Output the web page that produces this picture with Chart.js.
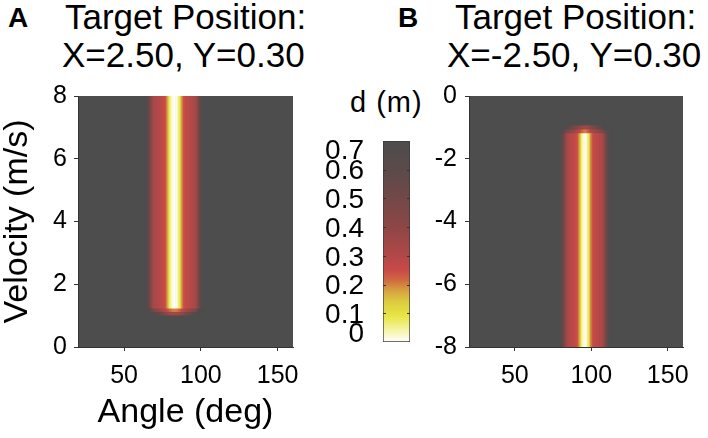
<!DOCTYPE html>
<html>
<head>
<meta charset="utf-8">
<script src="https://cdn.jsdelivr.net/npm/chart.js@4.4.1/dist/chart.umd.min.js"></script>
<style>
  html, body { margin: 0; padding: 0; background: #fff; }
  body { width: 708px; height: 438px; overflow: hidden; position: relative; font-family: "Liberation Sans", Arial, sans-serif; color: #000; }
  canvas { position: absolute; left: 0; top: 0; }
  .t { position: absolute; white-space: nowrap; line-height: 1; }
  .ttl { font-size: 35px; }
  .lab { font-size: 28px; font-weight: bold; }
</style>
</head>
<body>
<div class="t lab" style="left:8px;top:4px;">A</div>
<div class="t ttl" style="left:65px;top:-1px;">Target Position:</div>
<div class="t ttl" style="left:62px;top:37px;">X=2.50, Y=0.30</div>
<div class="t lab" style="left:398px;top:4px;">B</div>
<div class="t ttl" style="left:455px;top:-1px;">Target Position:</div>
<div class="t ttl" style="left:447px;top:37px;">X=-2.50, Y=0.30</div>
<div class="t" style="left:350px;top:88px;font-size:29px;letter-spacing:1px;">d (m)</div>

<canvas id="cA" width="708" height="438" style="width:708px;height:438px"></canvas>
<canvas id="cBar" width="708" height="438" style="width:708px;height:438px"></canvas>
<canvas id="cB" width="708" height="438" style="width:708px;height:438px"></canvas>

<script>
// ---------------- data ----------------
const angleTicks = [50, 100, 150];
const velTicksA = [0, 2, 4, 6, 8];
const velTicksB = [0, -2, -4, -6, -8];
const dTicks = [0, 0.1, 0.2, 0.3, 0.4, 0.5, 0.6, 0.7];
const dTickLabels = ['0', '0.1', '0.2', '0.3', '0.4', '0.5', '0.6', '0.7'];
const dSaturated = 0.7;   // value of all cells outside the stripes

// Panel A (target X=2.50): distance d per angle column (deg)
const anglesA = [64,65,66,67,68,69,70,71,72,73,74,75,76,77,78,79,80,81,82,83,
                 84,85,86,87,88,89,90,91,92,93,94,95,96,97,98,99,100,101,102];
const dBodyA = [0.70,0.67,0.60,0.50,0.40,0.34,0.32,0.31,0.30,0.29,0.28,0.27,0.26,0.24,0.20,0.13,0.07,0.03,0.01,0.00,
                0.01,0.03,0.07,0.13,0.20,0.24,0.26,0.27,0.28,0.29,0.30,0.31,0.32,0.34,0.40,0.50,0.60,0.67,0.70];
const dEndA1 = [0.70,0.70,0.68,0.64,0.57,0.50,0.45,0.42,0.40,0.38,0.36,0.34,0.32,0.30,0.27,0.24,0.22,0.21,0.20,0.20,
                0.20,0.21,0.22,0.24,0.27,0.30,0.32,0.34,0.36,0.38,0.40,0.42,0.45,0.50,0.57,0.64,0.68,0.70,0.70];
const dEndA2 = [0.70,0.70,0.70,0.70,0.70,0.69,0.66,0.62,0.58,0.55,0.52,0.49,0.46,0.43,0.40,0.38,0.36,0.35,0.34,0.34,
                0.34,0.35,0.36,0.38,0.40,0.43,0.46,0.49,0.52,0.55,0.58,0.62,0.66,0.69,0.70,0.70,0.70,0.70,0.70];
const velBodyA = [1.24, 8];
const velEndA1 = [1.13, 1.24];
const velEndA2 = [1.02, 1.13];

// Panel B (target X=-2.50)
const anglesB = [79,80,81,82,83,84,85,86,87,88,89,90,91,92,93,94,95,96,
                 97,98,99,100,101,102,103,104,105,106,107,108,109,110,111,112,113];
const dBodyB = [0.70,0.68,0.62,0.52,0.42,0.35,0.32,0.30,0.29,0.28,0.27,0.26,0.24,0.20,0.13,0.06,0.02,0.01,
                0.02,0.06,0.13,0.20,0.24,0.26,0.27,0.28,0.29,0.30,0.32,0.35,0.42,0.52,0.62,0.68,0.70];
const dEndB1 = [0.70,0.70,0.68,0.63,0.56,0.50,0.46,0.43,0.41,0.39,0.37,0.35,0.33,0.30,0.26,0.23,0.21,0.20,
                0.21,0.23,0.26,0.30,0.33,0.35,0.37,0.39,0.41,0.43,0.46,0.50,0.56,0.63,0.68,0.70,0.70];
const dEndB2 = [0.70,0.70,0.70,0.70,0.70,0.67,0.63,0.59,0.56,0.53,0.50,0.47,0.44,0.41,0.38,0.36,0.35,0.34,
                0.35,0.36,0.38,0.41,0.44,0.47,0.50,0.53,0.56,0.59,0.63,0.67,0.70,0.70,0.70,0.70,0.70];
const velBodyB = [-8, -1.2];
const velEndB1 = [-1.2, -1.08];
const velEndB2 = [-1.08, -0.95];

// ---------------- colormap (style) ----------------
const cmapStops  = [0, 0.04, 0.09, 0.14, 0.18, 0.215, 0.25, 0.30, 0.40, 0.50, 0.60, 0.70];
const cmapColors = ['#ffffff','#f6f4a8','#e8e644','#dccc40','#d8a040','#d06a42','#c84a48','#b24848','#8e4646','#724848','#5c4a4a','#4d4d4d'];

function hexToRgb(h) { const n = parseInt(h.slice(1), 16); return [(n >> 16) & 255, (n >> 8) & 255, n & 255]; }
function cmap(d) {
  if (d <= cmapStops[0]) return cmapColors[0];
  for (let i = 1; i < cmapStops.length; i++) {
    if (d <= cmapStops[i]) {
      const t = (d - cmapStops[i - 1]) / (cmapStops[i] - cmapStops[i - 1]);
      const a = hexToRgb(cmapColors[i - 1]), b = hexToRgb(cmapColors[i]);
      const c = a.map((v, k) => Math.round(v + (b[k] - v) * t));
      return `rgb(${c[0]},${c[1]},${c[2]})`;
    }
  }
  return cmapColors[cmapColors.length - 1];
}

// ---------------- helpers ----------------
Chart.defaults.font.family = '"Liberation Sans", Arial, sans-serif';
Chart.defaults.color = '#000';
const AX = '#333';

function stripe(angles, dVals, range) {
  return {
    type: 'bar',
    data: angles.map(a => ({ x: a, y: range })),
    backgroundColor: dVals.map(cmap),
    borderWidth: 0,
    grouped: false,
    barPercentage: 1,
    categoryPercentage: 1
  };
}

const bgPlugin = {
  id: 'heatBg',
  beforeDraw(chart) {
    const { ctx, chartArea: a } = chart;
    ctx.save();
    ctx.fillStyle = cmap(dSaturated);
    ctx.fillRect(a.left, a.top, a.right - a.left, a.bottom - a.top);
    ctx.restore();
  }
};

function axisCommon() {
  return {
    grid: { drawOnChartArea: false, drawTicks: true, tickLength: 4, color: AX, lineWidth: 1, offset: false },
    border: { display: true, color: AX, width: 1 }
  };
}

function heatChart(id, datasets, yMin, yMax, yTicks, pad, yWidth, withTitles, yPad) {
  const xs = Object.assign(axisCommon(), {
    type: 'linear', min: 20, max: 160, offset: false,
    afterBuildTicks: s => { s.ticks = angleTicks.map(v => ({ value: v })); },
    afterFit: s => { s.height = 91; },
    ticks: { font: { size: 25, lineHeight: 1.2 }, padding: 10, maxRotation: 0, autoSkip: false },
    title: { display: withTitles, text: 'Angle (deg)', font: { size: 34, lineHeight: 1.2 }, padding: { top: 0, bottom: 5 } }
  });
  const ys = Object.assign(axisCommon(), {
    type: 'linear', min: yMin, max: yMax,
    afterBuildTicks: s => { s.ticks = yTicks.map(v => ({ value: v })); },
    afterFit: s => { s.width = yWidth; },
    ticks: { font: { size: 25, lineHeight: 1.2 }, padding: yPad, autoSkip: false },
    title: { display: withTitles, text: 'Velocity (m/s)', font: { size: 34, lineHeight: 1 }, padding: { top: 1, bottom: 0 } }
  });
  return new Chart(document.getElementById(id), {
    type: 'bar',
    data: { datasets },
    options: {
      responsive: false, animation: false, devicePixelRatio: 1,
      layout: { padding: pad },
      plugins: { legend: { display: false }, tooltip: { enabled: false } },
      scales: { x: xs, y: ys }
    },
    plugins: [bgPlugin]
  });
}

// Panel A
heatChart('cA', [
  stripe(anglesA, dBodyA, velBodyA),
  stripe(anglesA, dEndA1, velEndA1),
  stripe(anglesA, dEndA2, velEndA2)
], 0, 8, velTicksA, { left: 0, top: 96, right: 415, bottom: 0 }, 78, true, 7);

// Panel B
heatChart('cB', [
  stripe(anglesB, dBodyB, velBodyB),
  stripe(anglesB, dEndB1, velEndB1),
  stripe(anglesB, dEndB2, velEndB2)
], -8, 0, velTicksB, { left: 419, top: 96, right: 25, bottom: 0 }, 50, false, 8);

// Colorbar
const cbTickPlugin = {
  id: 'cbTicks',
  afterDatasetsDraw(chart) {
    const { ctx, chartArea: a, scales: { y } } = chart;
    ctx.save();
    ctx.strokeStyle = AX; ctx.lineWidth = 1;
    dTicks.slice(1, -1).forEach(v => {
      const py = Math.round(y.getPixelForValue(v)) + 0.5;
      ctx.beginPath();
      ctx.moveTo(a.left, py); ctx.lineTo(a.left + 3, py);
      ctx.moveTo(a.right - 3, py); ctx.lineTo(a.right, py);
      ctx.stroke();
    });
    ctx.restore();
  }
};

new Chart(document.getElementById('cBar'), {
  type: 'bar',
  data: {
    labels: ['d'],
    datasets: [{
      data: [[dTicks[0], dTicks[dTicks.length - 1]]],
      backgroundColor: (c) => {
        const ch = c.chart;
        if (!ch.chartArea) return cmap(0.35);
        const ys = ch.scales.y;
        const g = ch.ctx.createLinearGradient(0, ys.getPixelForValue(0), 0, ys.getPixelForValue(0.7));
        cmapStops.forEach((s, i) => g.addColorStop(s / 0.7, cmapColors[i]));
        return g;
      },
      borderColor: '#3a3a3a', borderWidth: 1, borderSkipped: false,
      barPercentage: 1, categoryPercentage: 1
    }]
  },
  options: {
    responsive: false, animation: false, devicePixelRatio: 1,
    layout: { padding: { left: 323, top: 141, right: 298, bottom: 96 } },
    plugins: { legend: { display: false }, tooltip: { enabled: false } },
    scales: {
      x: { type: 'category', display: false },
      y: {
        min: 0, max: 0.7, position: 'left',
        afterBuildTicks: s => { s.ticks = dTicks.map(v => ({ value: v })); },
        afterFit: s => { s.width = 60; },
        grid: { display: false },
        border: { display: false },
        ticks: {
          autoSkip: false, padding: 11, labelOffset: 2,
          font: (c) => ({ size: 28, lineHeight: c.index === 0 ? '20px' : (c.index === dTicks.length - 1 ? '17px' : 1) }),
          callback: (v, i, ticks) => {
            const lab = dTickLabels[i];
            if (i === 0) return [lab, ''];
            if (i === ticks.length - 1) return ['', lab];
            return lab;
          }
        }
      }
    }
  },
  plugins: [cbTickPlugin]
});
</script>
</body>
</html>
